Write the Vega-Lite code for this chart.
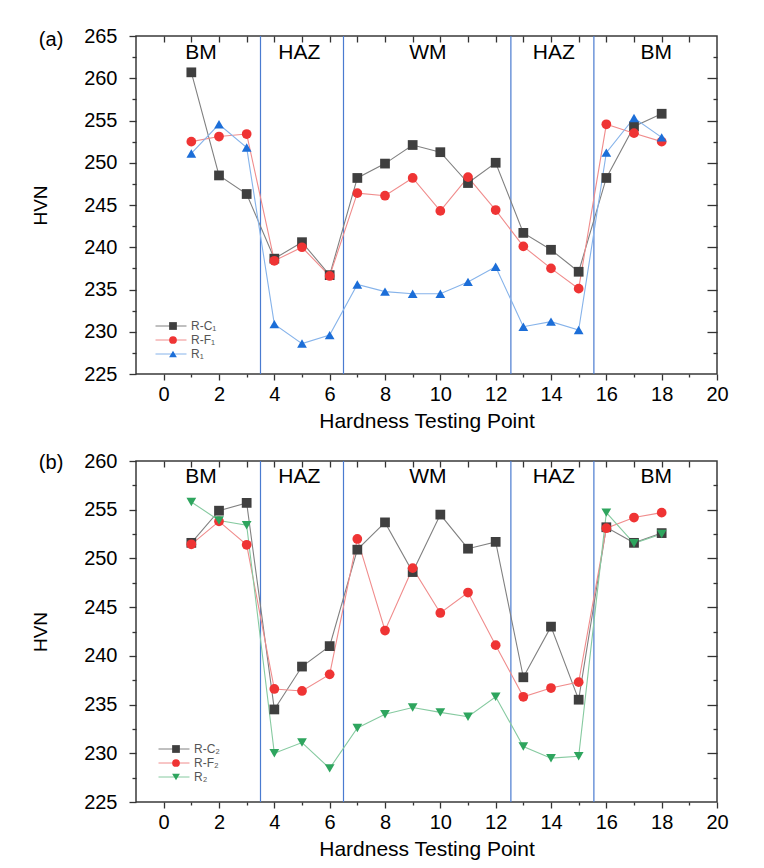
{
  "$schema": "https://vega.github.io/schema/vega-lite/v6.json",
  "padding": {"left": 30, "top": 25, "right": 10, "bottom": 5},
  "spacing": 18,
  "config": {
    "font": "Liberation Sans",
    "view": {"stroke": "#3a3a3a", "strokeWidth": 1.5},
    "axis": {"tickColor": "#333", "tickWidth": 1.3, "labelColor": "#000", "titleColor": "#000", "grid": false, "domain": false, "labelFlush": false, "labelOverlap": false},
    "legend": {"labelFontSize": 12, "labelColor": "#555", "padding": 0, "rowPadding": 0, "clipHeight": 14, "labelOffset": 4}
  },
  "datasets": {
    "sa": [
      {"x":1,"hv":260.7,"s":"R-C₁"},{"x":2,"hv":248.5,"s":"R-C₁"},{"x":3,"hv":246.3,"s":"R-C₁"},{"x":4,"hv":238.65,"s":"R-C₁"},{"x":5,"hv":240.6,"s":"R-C₁"},{"x":6,"hv":236.7,"s":"R-C₁"},{"x":7,"hv":248.2,"s":"R-C₁"},{"x":8,"hv":249.9,"s":"R-C₁"},{"x":9,"hv":252.1,"s":"R-C₁"},{"x":10,"hv":251.25,"s":"R-C₁"},{"x":11,"hv":247.6,"s":"R-C₁"},{"x":12,"hv":250.0,"s":"R-C₁"},{"x":13,"hv":241.7,"s":"R-C₁"},{"x":14,"hv":239.7,"s":"R-C₁"},{"x":15,"hv":237.1,"s":"R-C₁"},{"x":16,"hv":248.2,"s":"R-C₁"},{"x":17,"hv":254.3,"s":"R-C₁"},{"x":18,"hv":255.8,"s":"R-C₁"},
      {"x":1,"hv":252.5,"s":"R-F₁"},{"x":2,"hv":253.1,"s":"R-F₁"},{"x":3,"hv":253.4,"s":"R-F₁"},{"x":4,"hv":238.4,"s":"R-F₁"},{"x":5,"hv":240.0,"s":"R-F₁"},{"x":6,"hv":236.6,"s":"R-F₁"},{"x":7,"hv":246.4,"s":"R-F₁"},{"x":8,"hv":246.1,"s":"R-F₁"},{"x":9,"hv":248.2,"s":"R-F₁"},{"x":10,"hv":244.3,"s":"R-F₁"},{"x":11,"hv":248.3,"s":"R-F₁"},{"x":12,"hv":244.4,"s":"R-F₁"},{"x":13,"hv":240.1,"s":"R-F₁"},{"x":14,"hv":237.5,"s":"R-F₁"},{"x":15,"hv":235.1,"s":"R-F₁"},{"x":16,"hv":254.55,"s":"R-F₁"},{"x":17,"hv":253.5,"s":"R-F₁"},{"x":18,"hv":252.5,"s":"R-F₁"},
      {"x":1,"hv":251.1,"s":"R₁"},{"x":2,"hv":254.55,"s":"R₁"},{"x":3,"hv":251.8,"s":"R₁"},{"x":4,"hv":230.9,"s":"R₁"},{"x":5,"hv":228.6,"s":"R₁"},{"x":6,"hv":229.6,"s":"R₁"},{"x":7,"hv":235.6,"s":"R₁"},{"x":8,"hv":234.75,"s":"R₁"},{"x":9,"hv":234.5,"s":"R₁"},{"x":10,"hv":234.5,"s":"R₁"},{"x":11,"hv":235.9,"s":"R₁"},{"x":12,"hv":237.7,"s":"R₁"},{"x":13,"hv":230.6,"s":"R₁"},{"x":14,"hv":231.2,"s":"R₁"},{"x":15,"hv":230.2,"s":"R₁"},{"x":16,"hv":251.2,"s":"R₁"},{"x":17,"hv":255.3,"s":"R₁"},{"x":18,"hv":253.0,"s":"R₁"}
    ],
    "sb": [
      {"x":1,"hv":251.6,"s":"R-C₂"},{"x":2,"hv":254.9,"s":"R-C₂"},{"x":3,"hv":255.7,"s":"R-C₂"},{"x":4,"hv":234.5,"s":"R-C₂"},{"x":5,"hv":238.9,"s":"R-C₂"},{"x":6,"hv":241.0,"s":"R-C₂"},{"x":7,"hv":250.9,"s":"R-C₂"},{"x":8,"hv":253.7,"s":"R-C₂"},{"x":9,"hv":248.6,"s":"R-C₂"},{"x":10,"hv":254.5,"s":"R-C₂"},{"x":11,"hv":251.0,"s":"R-C₂"},{"x":12,"hv":251.7,"s":"R-C₂"},{"x":13,"hv":237.8,"s":"R-C₂"},{"x":14,"hv":243.0,"s":"R-C₂"},{"x":15,"hv":235.5,"s":"R-C₂"},{"x":16,"hv":253.2,"s":"R-C₂"},{"x":17,"hv":251.6,"s":"R-C₂"},{"x":18,"hv":252.6,"s":"R-C₂"},
      {"x":1,"hv":251.45,"s":"R-F₂"},{"x":2,"hv":253.8,"s":"R-F₂"},{"x":3,"hv":251.4,"s":"R-F₂"},{"x":4,"hv":236.6,"s":"R-F₂"},{"x":5,"hv":236.4,"s":"R-F₂"},{"x":6,"hv":238.1,"s":"R-F₂"},{"x":7,"hv":252.0,"s":"R-F₂"},{"x":8,"hv":242.6,"s":"R-F₂"},{"x":9,"hv":249.0,"s":"R-F₂"},{"x":10,"hv":244.4,"s":"R-F₂"},{"x":11,"hv":246.5,"s":"R-F₂"},{"x":12,"hv":241.1,"s":"R-F₂"},{"x":13,"hv":235.8,"s":"R-F₂"},{"x":14,"hv":236.7,"s":"R-F₂"},{"x":15,"hv":237.3,"s":"R-F₂"},{"x":16,"hv":253.1,"s":"R-F₂"},{"x":17,"hv":254.2,"s":"R-F₂"},{"x":18,"hv":254.7,"s":"R-F₂"},
      {"x":1,"hv":255.8,"s":"R₂"},{"x":2,"hv":253.9,"s":"R₂"},{"x":3,"hv":253.4,"s":"R₂"},{"x":4,"hv":230.0,"s":"R₂"},{"x":5,"hv":231.1,"s":"R₂"},{"x":6,"hv":228.45,"s":"R₂"},{"x":7,"hv":232.6,"s":"R₂"},{"x":8,"hv":234.0,"s":"R₂"},{"x":9,"hv":234.7,"s":"R₂"},{"x":10,"hv":234.2,"s":"R₂"},{"x":11,"hv":233.75,"s":"R₂"},{"x":12,"hv":235.8,"s":"R₂"},{"x":13,"hv":230.7,"s":"R₂"},{"x":14,"hv":229.5,"s":"R₂"},{"x":15,"hv":229.7,"s":"R₂"},{"x":16,"hv":254.7,"s":"R₂"},{"x":17,"hv":251.55,"s":"R₂"},{"x":18,"hv":252.5,"s":"R₂"}
    ],
    "vl": [{"v":3.5},{"v":6.5},{"v":12.55},{"v":15.55}],
    "rg": [{"x":1.35,"t":"BM"},{"x":4.9,"t":"HAZ"},{"x":9.55,"t":"WM"},{"x":14.1,"t":"HAZ"},{"x":17.8,"t":"BM"}],
    "pa": [{"t":"(a)"}],
    "pb": [{"t":"(b)"}]
  },
  "resolve": {
    "scale": {"x": "independent", "y": "independent", "stroke": "independent", "fill": "independent", "shape": "independent"},
    "legend": {"stroke": "independent", "fill": "independent", "shape": "independent"}
  },
  "vconcat": [
    {
      "width": 581, "height": 338,
      "resolve": {"axis": {"x": "independent", "y": "independent"}},
      "layer": [
        {"data": {"name": "vl"}, "mark": {"type": "rule", "color": "#4a7bd0", "strokeWidth": 1.2},
         "encoding": {"x": {"field": "v", "type": "quantitative", "scale": {"domain": [-1, 20], "nice": false, "zero": false}, "axis": null}}},
        {"data": {"name": "rg"}, "mark": {"type": "text", "fontSize": 21, "color": "#000"},
         "encoding": {"x": {"field": "x", "type": "quantitative", "axis": null},
                      "y": {"datum": 263, "type": "quantitative", "scale": {"domain": [225, 265], "nice": false, "zero": false}, "axis": null},
                      "text": {"field": "t"}}},
        {"data": {"name": "pa"}, "mark": {"type": "text", "fontSize": 20, "fontWeight": "normal", "color": "#000"},
         "encoding": {"x": {"datum": -4.07, "type": "quantitative", "axis": null},
                      "y": {"datum": 264.5, "type": "quantitative", "axis": null},
                      "text": {"field": "t"}}},
        {"data": {"name": "sa"}, "mark": {"type": "point", "opacity": 0},
         "encoding": {"x": {"field": "x", "type": "quantitative", "axis": {"orient": "bottom", "values": [1,3,5,7,9,11,13,15,17,19], "tickSize": 3, "labels": false, "title": null}},
                      "y": {"field": "hv", "type": "quantitative", "axis": {"orient": "left", "values": [227.5,232.5,237.5,242.5,247.5,252.5,257.5,262.5], "tickSize": 4, "labels": false, "title": null}}}},
        {"data": {"name": "sa"}, "mark": {"type": "point", "opacity": 0},
         "encoding": {"x": {"field": "x", "type": "quantitative", "axis": {"orient": "top", "values": [0,1,2,3,4,5,6,7,8,9,10,11,12,13,14,15,16,17,18,19], "tickSize": 6, "offset": -6, "labels": false, "title": null}},
                      "y": {"field": "hv", "type": "quantitative", "axis": {"orient": "right", "values": [230,235,240,245,250,255,260], "tickSize": 10, "offset": -10, "labels": false, "title": null}}}},
        {"data": {"name": "sa"}, "mark": {"type": "point", "opacity": 0},
         "encoding": {"x": {"field": "x", "type": "quantitative", "axis": null},
                      "y": {"field": "hv", "type": "quantitative", "axis": {"orient": "right", "values": [227.5,232.5,237.5,242.5,247.5,252.5,257.5,262.5], "tickSize": 4, "offset": -4, "labels": false, "title": null}}}},
        {"data": {"name": "sa"}, "mark": {"type": "line", "strokeWidth": 1.1},
         "encoding": {"x": {"field": "x", "type": "quantitative", "axis": {"orient": "bottom", "values": [0,2,4,6,8,10,12,14,16,18,20], "tickSize": 6, "labelFontSize": 20, "labelPadding": 4, "title": "Hardness Testing Point", "titleFontSize": 21, "titleFontWeight": "normal", "titlePadding": 6}},
                      "y": {"field": "hv", "type": "quantitative", "axis": {"orient": "left", "values": [225,230,235,240,245,250,255,260,265], "tickSize": 7, "labelFontSize": 20, "labelPadding": 12, "title": "HVN", "titleFontSize": 19, "titleFontWeight": "normal", "titlePadding": 33}},
                      "stroke": {"field": "s", "type": "nominal", "scale": {"domain": ["R-C₁", "R-F₁", "R₁"], "range": ["#808080", "#f08c8c", "#86b3ea"]},
                                 "legend": {"orient": "none", "legendX": 19, "legendY": 283, "symbolType": "stroke", "symbolSize": 961, "symbolStrokeWidth": 1, "title": null}}}},
        {"data": {"name": "sa"}, "mark": {"type": "point", "filled": true, "size": 95, "opacity": 1},
         "encoding": {"x": {"field": "x", "type": "quantitative", "axis": null},
                      "y": {"field": "hv", "type": "quantitative", "axis": null},
                      "fill": {"field": "s", "type": "nominal", "scale": {"range": ["#3f3f3f", "#ef3434", "#1c6ed8"]},
                               "legend": {"orient": "none", "legendX": 31, "legendY": 283, "labelExpr": "''", "symbolSize": 60, "title": null}},
                      "shape": {"field": "s", "type": "nominal", "scale": {"range": ["square", "circle", "triangle-up"]},
                               "legend": {"orient": "none", "legendX": 31, "legendY": 283, "labelExpr": "''", "symbolSize": 60, "title": null}}}}
      ]
    },
    {
      "width": 581, "height": 341,
      "resolve": {"axis": {"x": "independent", "y": "independent"}},
      "layer": [
        {"data": {"name": "vl"}, "mark": {"type": "rule", "color": "#4a7bd0", "strokeWidth": 1.2},
         "encoding": {"x": {"field": "v", "type": "quantitative", "scale": {"domain": [-1, 20], "nice": false, "zero": false}, "axis": null}}},
        {"data": {"name": "rg"}, "mark": {"type": "text", "fontSize": 21, "color": "#000"},
         "encoding": {"x": {"field": "x", "type": "quantitative", "axis": null},
                      "y": {"datum": 258.35, "type": "quantitative", "scale": {"domain": [225, 260], "nice": false, "zero": false}, "axis": null},
                      "text": {"field": "t"}}},
        {"data": {"name": "pb"}, "mark": {"type": "text", "fontSize": 20, "fontWeight": "normal", "color": "#000"},
         "encoding": {"x": {"datum": -4.07, "type": "quantitative", "axis": null},
                      "y": {"datum": 259.8, "type": "quantitative", "axis": null},
                      "text": {"field": "t"}}},
        {"data": {"name": "sb"}, "mark": {"type": "point", "opacity": 0},
         "encoding": {"x": {"field": "x", "type": "quantitative", "axis": {"orient": "bottom", "values": [1,3,5,7,9,11,13,15,17,19], "tickSize": 3, "labels": false, "title": null}},
                      "y": {"field": "hv", "type": "quantitative", "axis": {"orient": "left", "values": [227.5,232.5,237.5,242.5,247.5,252.5,257.5], "tickSize": 4, "labels": false, "title": null}}}},
        {"data": {"name": "sb"}, "mark": {"type": "point", "opacity": 0},
         "encoding": {"x": {"field": "x", "type": "quantitative", "axis": {"orient": "top", "values": [0,1,2,3,4,5,6,7,8,9,10,11,12,13,14,15,16,17,18,19], "tickSize": 6, "offset": -6, "labels": false, "title": null}},
                      "y": {"field": "hv", "type": "quantitative", "axis": {"orient": "right", "values": [230,235,240,245,250,255], "tickSize": 10, "offset": -10, "labels": false, "title": null}}}},
        {"data": {"name": "sb"}, "mark": {"type": "point", "opacity": 0},
         "encoding": {"x": {"field": "x", "type": "quantitative", "axis": null},
                      "y": {"field": "hv", "type": "quantitative", "axis": {"orient": "right", "values": [227.5,232.5,237.5,242.5,247.5,252.5,257.5], "tickSize": 4, "offset": -4, "labels": false, "title": null}}}},
        {"data": {"name": "sb"}, "mark": {"type": "line", "strokeWidth": 1.1},
         "encoding": {"x": {"field": "x", "type": "quantitative", "axis": {"orient": "bottom", "values": [0,2,4,6,8,10,12,14,16,18,20], "tickSize": 6, "labelFontSize": 20, "labelPadding": 4, "title": "Hardness Testing Point", "titleFontSize": 21, "titleFontWeight": "normal", "titlePadding": 6}},
                      "y": {"field": "hv", "type": "quantitative", "axis": {"orient": "left", "values": [225,230,235,240,245,250,255,260], "tickSize": 7, "labelFontSize": 20, "labelPadding": 12, "title": "HVN", "titleFontSize": 19, "titleFontWeight": "normal", "titlePadding": 33}},
                      "stroke": {"field": "s", "type": "nominal", "scale": {"domain": ["R-C₂", "R-F₂", "R₂"], "range": ["#808080", "#f08c8c", "#86caa0"]},
                                 "legend": {"orient": "none", "legendX": 22, "legendY": 281, "symbolType": "stroke", "symbolSize": 961, "symbolStrokeWidth": 1, "title": null}}}},
        {"data": {"name": "sb"}, "mark": {"type": "point", "filled": true, "size": 95, "opacity": 1},
         "encoding": {"x": {"field": "x", "type": "quantitative", "axis": null},
                      "y": {"field": "hv", "type": "quantitative", "axis": null},
                      "fill": {"field": "s", "type": "nominal", "scale": {"range": ["#3f3f3f", "#ef3434", "#2ea55e"]},
                               "legend": {"orient": "none", "legendX": 34, "legendY": 281, "labelExpr": "''", "symbolSize": 60, "title": null}},
                      "shape": {"field": "s", "type": "nominal", "scale": {"range": ["square", "circle", "triangle-down"]},
                               "legend": {"orient": "none", "legendX": 34, "legendY": 281, "labelExpr": "''", "symbolSize": 60, "title": null}}}}
      ]
    }
  ]
}
